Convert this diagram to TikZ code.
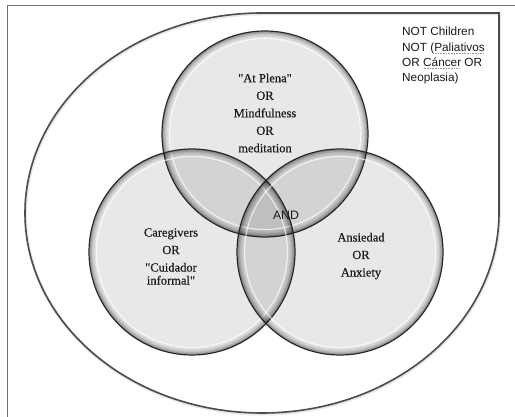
\documentclass[tikz,border=0pt]{standalone}
\usepackage{fontspec}
\setmainfont{Liberation Serif}[Ligatures=TeXOff]
\newfontfamily\serifb{Liberation Serif}[Ligatures=TeXOff, FakeBold=0.35]
\newfontfamily\arialf{Liberation Sans}
\newcommand\spellmark[1]{\setbox0\hbox{#1}\rlap{\color{gray!80}\leaders\hbox to 1.6pt{\hss\vrule width 0.8pt height -1.6pt depth 2.4pt\hss}\hskip\wd0}\box0\relax}
\tikzset{
  vc/.style={circle, minimum size=206pt, inner sep=0pt, fill=black, fill opacity=0.09, draw=none},
  lbl/.style={align=center, font=\serifb\fontsize{12.5}{17.5}\selectfont, text=black!90, inner sep=0pt},
  sanslbl/.style={font=\arialf\fontsize{11.8}{15.3}\selectfont, text=black!90, inner sep=0pt, anchor=base west},
  outerline/.style={draw=black!70, line width=1.6pt},
  framel/.style={draw=black!55, line width=0.8pt}
}
\begin{document}
\begin{tikzpicture}[x=1pt,y=-1pt]
\useasboundingbox (0,0) rectangle (515,417);
\fill[white] (0,0) rectangle (515,417);
% frame
\draw[framel] (7,417) -- (7,5.5) -- (515,5.5);
% outer teardrop shape with soft shadow
\draw[black!15, line width=3pt, opacity=0.6, line join=round]
  (262.5,14) arc[start angle=270, end angle=0, x radius=237, y radius=200] -- (499.5,14) -- cycle;
\draw[outerline, line join=miter]
  (262,13) arc[start angle=270, end angle=0, x radius=237, y radius=200] -- (499,13) -- cycle;
% circles
\node[vc] (topc) at (265,134) {};
\node[vc] (leftc) at (192,252) {};
\node[vc] (rightc) at (340,252) {};
\foreach \n in {topc,leftc,rightc}{
  \foreach \d/\o in {1/0.32,2.2/0.22,3.4/0.14,4.6/0.08,5.8/0.04}
    \draw[black, opacity=\o, line width=1.3pt] (\n.center) circle[radius={103pt-\d pt}];
  \draw[white, opacity=0.7, line width=1.1pt] (\n.center) circle[radius=95.5pt];
  \draw[black!85, line width=1.2pt] (\n.center) circle[radius=103pt];
}
% texts
\node[lbl] (toptext) at (265,113) {"At Plena"\\OR\\Mindfulness\\OR\\meditation};
\node[lbl] (lefttext) at (171,256.5) {Caregivers\\OR\\"Cuidador\\[-4.5pt]informal"};
\node[lbl] (righttext) at (361,256) {Ansiedad\\OR\\Anxiety};
\node[font=\arialf\fontsize{12.3}{14}\selectfont, text=black!90, inner sep=0pt] (andtext) at (286,215) {AND};
\node[sanslbl] (not1) at (402,36) {NOT Children};
\node[sanslbl] (not2) at (402,51.3) {NOT (\spellmark{Paliativos}};
\node[sanslbl] (not3) at (402,66.6) {OR \spellmark{Cáncer} OR};
\node[sanslbl] (not4) at (402,81.9) {Neoplasia)};
\end{tikzpicture}
\end{document}
